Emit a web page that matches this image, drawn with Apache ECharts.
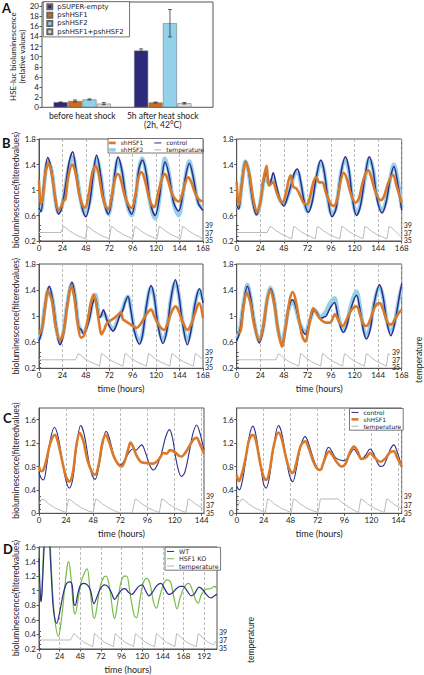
<!DOCTYPE html>
<html><head><meta charset="utf-8">
<script src="https://cdn.jsdelivr.net/npm/echarts@6/dist/echarts.min.js"></script>
<style>html,body{margin:0;padding:0;background:#fff;}#c{width:424px;height:675px;}</style>
</head><body><div id="c"></div>
<script>
// ---------------- Panel A data ----------------
const A_categories = ['before heat shock', '5h after heat shock\n(2h, 42°C)'];
const A_names = ['pSUPER-empty', 'pshHSF1', 'pshHSF2', 'pshHSF1+pshHSF2'];
const A_pSUPER = [1.0, 11.2];
const A_pshHSF1 = [1.25, 0.95];
const A_pshHSF2 = [1.55, 16.6];
const A_pshBoth = [0.72, 0.8];
const A_err_pSUPER = [0.05, 0.33];
const A_err_pshHSF1 = [0.2, 0.08];
const A_err_pshHSF2 = [0.1, 2.7];
const A_err_pshBoth = [0.2, 0.15];
const A_yTicks = [0, 20, 2];

// ---------------- Panel B data (hours, filtered bioluminescence) ----------------
const B1_control = [[0,0.72],[2,0.66],[5,1.1],[9,1.51],[13,1.3],[17,0.8],[20,0.62],[23,0.7],[27,1.05],[31,1.45],[34.5,1.6],[38,1.3],[43,0.8],[48,0.58],[52,0.8],[56,1.3],[59,1.55],[63,1.25],[67,0.8],[71,0.62],[75,0.9],[78,1.3],[81,1.52],[85,1.3],[90,0.8],[95,0.62],[99,0.9],[102,1.3],[106,1.47],[110,1.25],[114,0.8],[119,0.6],[123,0.85],[126,1.2],[129,1.44],[133,1.25],[138,0.8],[143,0.67],[147,0.9],[150,1.2],[154,1.42],[158,1.2],[163,0.8],[168,0.68]];
const B1_shHSF1 = [[0,1.15],[2,0.78],[4,0.9],[7,1.3],[10,1.42],[13,1.25],[17,0.85],[20,0.68],[23,0.75],[25,0.83],[27,0.85],[30,1.2],[34,1.4],[37,1.3],[41,0.95],[44,0.78],[47,0.72],[51,0.95],[55,1.3],[58,1.37],[61,1.25],[65,0.9],[68,0.75],[71,0.7],[75,0.95],[78,1.18],[81,1.25],[84,1.15],[88,0.9],[92,0.76],[95,0.72],[99,0.95],[102,1.2],[105,1.28],[108,1.18],[112,0.92],[115,0.78],[118,0.73],[122,0.95],[126,1.18],[129,1.25],[132,1.15],[136,0.95],[140,0.85],[143,0.82],[147,0.95],[150,1.12],[153,1.2],[156,1.12],[160,0.95],[164,0.85],[168,0.82]];
const B1_shHSF2 = [[0,0.7],[2,0.68],[5,1.05],[9,1.45],[13,1.3],[17,0.82],[20,0.65],[23,0.72],[27,1.05],[31,1.4],[34.5,1.52],[38,1.3],[43,0.82],[47,0.62],[52,0.82],[56,1.28],[59,1.5],[63,1.25],[67,0.82],[71,0.62],[75,0.9],[78,1.28],[81,1.48],[85,1.3],[90,0.8],[95,0.6],[99,0.88],[102,1.3],[105.5,1.5],[110,1.25],[114,0.78],[119,0.55],[123,0.82],[126,1.22],[129,1.5],[133,1.28],[138,0.78],[143,0.6],[147,0.88],[150,1.2],[154,1.45],[158,1.22],[163,0.8],[168,0.7]];
const B1_temp = [[0,37],[22.5,37],[25,38.6],[27,38.4],[31,37.5],[37,36.5],[43,35.8],[47.5,35.3],[49.5,38.6],[51.5,38.4],[55.5,37.5],[61.5,36.5],[67.5,35.8],[72,35.3],[74,38.6],[76,38.4],[80,37.5],[86,36.5],[92,35.8],[96,35.3],[98,38.6],[100,38.4],[104,37.5],[110,36.5],[116,35.8],[121,35.3],[123,38.6],[125,38.4],[129,37.5],[135,36.5],[141,35.8],[145,35.3],[147,38.6],[149,38.4],[153,37.5],[159,36.5],[165,35.8],[167,35.4],[168,36.5]];

const B2_control = [[0,0.76],[2,0.7],[5,1.1],[9,1.45],[12,1.3],[16,0.85],[20,0.61],[24,0.8],[27,1.1],[30.4,1.29],[33,1.07],[35,1.15],[37.2,1.27],[40,1.1],[42,0.97],[45,0.82],[48,0.75],[52,0.9],[56,1.12],[59,1.28],[61.8,1.33],[65,1.15],[69,0.8],[73,0.65],[77,0.82],[81,1.2],[85.7,1.47],[89,1.3],[93,0.85],[97,0.58],[101,0.7],[106,1.25],[110.6,1.52],[114,1.35],[118,0.85],[122,0.6],[126,0.75],[131,1.25],[135,1.52],[139,1.3],[143,0.85],[148,0.64],[152,0.8],[156,1.15],[160,1.37],[164,1.1],[168,0.68]];
const B2_shHSF1 = [[0,1.13],[2,0.76],[5,1.05],[9.2,1.43],[13,1.25],[17,0.85],[20.6,0.66],[24,0.8],[27,1.15],[30.4,1.38],[33,1.07],[37,1.12],[40.5,0.97],[44,0.84],[46.6,0.8],[50,0.95],[54.8,1.23],[57.6,1.05],[61,1.02],[65,0.9],[68,0.8],[71.4,0.77],[75,0.92],[78,1.12],[81,1.2],[84,1.12],[87,1.12],[91,0.95],[95,0.8],[99,0.75],[103,0.9],[106,1.15],[109,1.27],[112,1.18],[116,0.95],[121,0.8],[124,0.85],[128,1.1],[131,1.25],[134,1.31],[137,1.2],[141,0.98],[146.6,0.84],[150,0.9],[154,1.1],[159,1.24],[163,1.05],[168,0.8]];
const B2_shHSF2 = [[0,0.75],[2,0.72],[5,1.1],[9,1.45],[12,1.3],[16,0.85],[20.5,0.62],[24,0.8],[27,1.1],[30,1.25],[32,1.12],[35,1.15],[37,1.18],[40,1.05],[44,0.85],[48,0.78],[52,0.9],[56,1.1],[59,1.25],[62,1.28],[65,1.12],[69,0.8],[72,0.66],[76,0.8],[81,1.18],[85.7,1.44],[89,1.3],[93,0.85],[97,0.62],[101,0.72],[106,1.25],[110.6,1.48],[114,1.32],[118,0.85],[122,0.63],[126,0.78],[131,1.22],[135,1.5],[139,1.32],[143,0.88],[148,0.67],[152,0.82],[156,1.15],[160,1.4],[164,1.15],[168,0.72]];
const B2_temp = [[0,37],[31,37],[34,38.6],[36,38.4],[40,37.5],[46,36.5],[52,35.8],[56,35.3],[58,38.6],[60,38.4],[64,37.5],[70,36.5],[76,35.8],[80,35.3],[82,38.6],[84,38.4],[88,37.5],[94,36.5],[100,35.8],[105,35.3],[107,38.6],[109,38.4],[113,37.5],[119,36.5],[125,35.8],[128.5,35.3],[130.5,38.6],[132.5,38.4],[136.5,37.5],[142.5,36.5],[148.5,35.8],[153,35.3],[155,38.6],[157,38.4],[161,37.5],[166,36.2],[168,35.9]];

const B3_control = [[0,0.62],[3,0.78],[6,1.15],[10.6,1.46],[14,1.25],[18,0.8],[21.5,0.56],[25,0.72],[29,1.2],[33.8,1.52],[37,1.3],[39.5,0.95],[41,0.82],[43,0.8],[46,0.72],[49,0.82],[52,0.98],[55,1.2],[57.7,1.28],[60,1.1],[62,0.98],[64,1.02],[66,1.1],[68,1.02],[70,0.92],[73,0.82],[76,0.77],[79,0.85],[82,0.98],[86,1.1],[88,1.2],[91,1.3],[94,1.1],[98,0.75],[103,0.57],[106,0.7],[110,1.15],[114.8,1.47],[118,1.3],[122,0.85],[127,0.58],[131,0.78],[135,1.25],[139.7,1.56],[143,1.35],[147,0.9],[152,0.56],[156,0.8],[160,1.2],[164.3,1.42],[168,1.2]];
const B3_shHSF1 = [[0,0.72],[3,0.8],[6,1.1],[9,1.38],[13,1.25],[17,0.85],[21.5,0.63],[25,0.75],[29,1.15],[33,1.46],[36,1.3],[40,0.85],[43,0.67],[46,0.7],[50,0.95],[53,1.2],[56,1.33],[59,1.15],[62,0.85],[64,0.72],[67,0.8],[69,0.88],[73,0.93],[77,0.97],[81,1.02],[84,1.06],[86,0.95],[89,0.92],[93,0.88],[97,0.84],[100,0.82],[104,0.88],[108,0.98],[112,1.07],[115,1.1],[118,1.0],[122,0.88],[128,0.79],[132,0.9],[136,1.07],[140,1.15],[143,1.08],[147,0.92],[152,0.79],[156,0.88],[160,1.05],[164,1.2],[168,0.97]];
const B3_shHSF2 = [[0,0.64],[3,0.8],[6,1.15],[10.6,1.44],[14,1.25],[18,0.8],[21.5,0.6],[25,0.75],[29,1.2],[33.8,1.5],[37,1.3],[40,0.9],[43,0.78],[46,0.75],[49,0.85],[52,1.0],[55,1.25],[57.7,1.33],[60,1.15],[62,1.0],[64,1.0],[66,1.05],[70,0.95],[73,0.85],[76,0.8],[79,0.88],[82,1.0],[86,1.12],[88,1.22],[91,1.3],[94,1.12],[98,0.78],[103,0.62],[106,0.72],[110,1.15],[114.8,1.44],[118,1.3],[122,0.88],[127,0.63],[131,0.8],[135,1.25],[139.7,1.52],[143,1.35],[147,0.92],[152,0.62],[156,0.82],[160,1.2],[164.3,1.4],[168,1.25]];
const B3_temp = [[0,37],[37.5,37],[40,38.6],[42,38.4],[46,37.5],[52,36.5],[58,35.8],[62,35.3],[64,38.6],[66,38.4],[70,37.5],[76,36.5],[82,35.8],[86,35.3],[88,38.6],[90,38.4],[94,37.5],[100,36.5],[106,35.8],[110,35.3],[112,38.6],[114,38.4],[118,37.5],[124,36.5],[130,35.8],[134,35.3],[136,38.6],[138,38.4],[142,37.5],[148,36.5],[154,35.8],[158,35.3],[160,38.6],[162,38.4],[166,37.5],[168,37]];

const B4_control = [[0,0.62],[3,0.75],[7,1.2],[10.9,1.46],[14,1.3],[18,0.9],[23,0.59],[27,0.8],[31,1.25],[34.5,1.42],[38,1.25],[42,0.8],[46,0.57],[49,0.75],[52,1.05],[55,1.22],[57,1.25],[60,1.15],[64,0.9],[67,0.78],[70,0.72],[73,0.85],[76,1.0],[79,1.1],[82,1.05],[85,0.96],[88,0.98],[91,1.0],[95,1.12],[99.5,1.21],[103,1.0],[106,0.82],[108.5,0.75],[112,0.85],[116,1.1],[122,1.32],[125,1.15],[129,0.78],[132,0.65],[136,0.8],[140,1.2],[145.5,1.48],[149,1.3],[153,0.9],[157,0.7],[161,0.9],[165,1.25],[168,1.5]];
const B4_shHSF1 = [[0,0.75],[3,0.75],[7,1.15],[10,1.36],[14,1.2],[18,0.85],[23,0.63],[27,0.85],[31,1.25],[34,1.4],[38,1.2],[42,0.8],[46,0.53],[50,0.85],[54,1.25],[57,1.37],[60,1.25],[64,0.9],[67,0.68],[70,0.61],[73,0.8],[76,1.05],[78,1.12],[81,1.05],[84,0.98],[87,0.93],[91,0.9],[95,0.9],[100,1.03],[104,0.92],[108,0.85],[112,0.95],[117,1.1],[122,1.15],[126,1.0],[129,0.88],[132,0.85],[136,0.95],[141,1.15],[145.5,1.2],[149,1.1],[153,0.92],[157,0.87],[161,0.95],[165,1.05],[168,1.1]];
const B4_shHSF2 = [[0,0.66],[3,0.78],[7,1.2],[10.9,1.48],[14,1.3],[18,0.9],[23,0.62],[27,0.82],[31,1.25],[34.5,1.44],[38,1.25],[42,0.8],[46,0.6],[49,0.78],[52,1.05],[55,1.2],[57,1.22],[60,1.12],[64,0.9],[67,0.8],[70,0.75],[73,0.86],[76,1.0],[79,1.1],[82,1.05],[85,0.98],[88,1.02],[91,1.08],[95,1.2],[99.5,1.28],[103,1.05],[106,0.85],[108.5,0.78],[112,0.88],[116,1.15],[122,1.38],[125,1.2],[129,0.82],[132,0.7],[136,0.85],[140,1.2],[145.5,1.45],[149,1.3],[153,0.92],[157,0.75],[161,0.92],[165,1.25],[168,1.45]];
const B4_temp = [[0,37],[43,37],[45.5,38.6],[47.5,38.4],[51.5,37.5],[57.5,36.5],[63.5,35.8],[68,35.3],[70,38.6],[72,38.4],[76,37.5],[82,36.5],[88,35.8],[92,35.3],[94,38.6],[96,38.4],[100,37.5],[106,36.5],[112,35.8],[116,35.3],[118,38.6],[120,38.4],[124,37.5],[130,36.5],[136,35.8],[140,35.3],[142,38.6],[144,38.4],[148,37.5],[154,36.5],[160,35.8],[164,35.3],[166,38.6],[168,38.4]];

// ---------------- Panel C data ----------------
const C1_control = [[0,0.7],[2,0.6],[4,0.57],[7,0.85],[10,1.25],[13.6,1.47],[17,1.3],[21,0.85],[24,0.55],[26.8,0.43],[30,0.6],[33,1.1],[36.9,1.5],[40,1.35],[44,0.9],[47,0.65],[49.6,0.58],[53,0.8],[56,1.15],[59.3,1.4],[62,1.3],[66,1.0],[69,0.87],[72.3,0.83],[76,0.92],[80,1.05],[83,1.1],[86,1.08],[88,1.12],[90.8,1.17],[94,1.05],[98,0.82],[101.2,0.74],[104,0.8],[108,1.0],[112,1.3],[115.4,1.43],[118,1.3],[122,0.85],[126,0.63],[129,0.7],[133,1.05],[136,1.35],[139.5,1.51],[142,1.4],[146,1.08]];
const C1_shHSF1 = [[0,0.8],[2,0.72],[4,0.75],[7,0.95],[10,1.2],[14,1.34],[17,1.2],[21,0.85],[24,0.62],[27,0.54],[30,0.7],[33,1.15],[36,1.37],[39,1.25],[43,0.9],[47,0.7],[49.6,0.66],[53,0.85],[56,1.2],[59,1.34],[62,1.22],[66,0.98],[70,0.84],[73,0.8],[76,0.9],[79,1.1],[81,1.21],[83,1.15],[86,1.0],[90,0.88],[95,0.86],[101,0.85],[105,0.9],[108,0.98],[110,1.03],[113,1.02],[116,1.08],[120,1.05],[124,0.98],[126,0.97],[130,1.05],[134,1.18],[137,1.27],[139.5,1.29],[142,1.2],[146,1.02]];
const C1_temp = [[0,37.2],[2.5,38.3],[4.5,38.1],[8.5,37.2],[14.5,36.2],[20.5,35.5],[24,35.2],[26,38.3],[28,38.1],[32,37.2],[38,36.2],[44,35.5],[48,35.2],[50,38.3],[52,38.1],[56,37.2],[62,36.2],[68,35.4],[72,35.1],[82.5,35.1],[85,38.3],[87,38.1],[91,37.2],[97,36.2],[103,35.5],[106.5,35.2],[108.5,38.3],[110.5,38.1],[114.5,37.2],[120.5,36.2],[126.5,35.5],[130,35.2],[132,38.3],[134,38.1],[138,37.2],[144,36.3],[146,36]];
const C2_control = [[0,0.46],[2.4,0.4],[5,0.55],[8,0.9],[11,1.3],[14.3,1.49],[17,1.35],[21,0.85],[24,0.5],[26.2,0.43],[29,0.6],[33,1.15],[37.2,1.5],[40,1.38],[44,0.95],[47,0.65],[50,0.54],[53,0.75],[57,1.15],[61,1.31],[64,1.2],[68,0.95],[71,0.8],[74.3,0.74],[77,0.85],[80,1.08],[82,1.13],[85,1.05],[88,0.95],[92,0.91],[96,0.9],[100,0.98],[104.5,1.1],[108,1.0],[111.3,0.93],[115,1.0],[118.8,1.1],[122,1.02],[125,0.88],[128,0.8],[131,0.82],[134,0.95],[137,1.1],[140,1.17],[143,1.05],[147,0.8]];
const C2_shHSF1 = [[0,0.66],[2,0.55],[5,0.7],[8,0.95],[11,1.25],[14.3,1.34],[17,1.25],[21,0.85],[24,0.62],[26.2,0.57],[29,0.7],[33,1.15],[37.2,1.38],[40,1.28],[44,0.95],[47,0.75],[50,0.69],[53,0.85],[57,1.15],[61,1.23],[64,1.12],[68,0.9],[71,0.78],[74.3,0.74],[77,0.85],[80,1.0],[82,1.06],[85,1.0],[89,0.88],[93.5,0.8],[97,0.85],[101,1.05],[104.5,1.14],[108,1.05],[111,0.93],[115,0.95],[119,1.03],[123,0.95],[128,0.88],[132,0.93],[137,1.05],[140,1.06],[143,0.95],[147,0.8]];
const C2_temp = [[0,36.3],[2.5,37.5],[4.5,38.3],[6.5,38.1],[10.5,37.2],[16.5,36.2],[22.5,35.5],[25.5,35.2],[27.5,38.3],[29.5,38.1],[33.5,37.2],[39.5,36.2],[45.5,35.5],[48.5,35.2],[50.5,38.3],[52.5,38.1],[56.5,37.2],[62.5,36.2],[68.5,35.5],[72.5,35.2],[74.5,38.3],[90.5,38.3],[92.5,37.8],[96.5,37],[102.5,36],[106.5,35.4],[108.5,35.2],[110.5,38.3],[112.5,38.1],[116.5,37.2],[122.5,36.2],[128.5,35.5],[131.5,35.2],[133.5,38.3],[135.5,38.1],[139.5,37.2],[145.5,36.2],[147,36]];

// ---------------- Panel D data ----------------
const D_WT = [[0,1.45],[1.5,0.95],[2.5,0.85],[4,1.1],[6,1.6],[8,1.9],[11,1.9],[13,1.5],[15,1.05],[17,0.72],[20.5,0.55],[24,0.7],[28,0.95],[32,1.1],[36,1.12],[38.5,1.08],[40.5,0.82],[42,0.8],[45,0.95],[48,1.07],[52,1.1],[57,1.07],[60,1.0],[64,0.82],[67,0.9],[71,1.02],[76,1.08],[80,1.06],[84,0.98],[88,0.88],[92,0.95],[97,1.02],[100,1.03],[104,0.98],[108,0.95],[112,1.0],[116,1.06],[120,1.08],[124,1.0],[128,0.93],[132,0.98],[137,1.07],[142,1.1],[146,1.03],[151,0.95],[155,0.97],[160,1.03],[164,1.06],[168,1.06],[172,1.0],[177,0.93],[181,0.96],[186,1.05],[190,1.02],[196,0.93],[200,0.9],[204,0.93],[207,0.95]];
const D_HSF1KO = [[0,1.2],[1.5,0.9],[2.5,0.85],[4,1.2],[6,1.7],[9,1.9],[12,1.8],[14,1.4],[16,0.95],[19,0.55],[22.5,0.37],[26,0.6],[30,1.05],[33,1.35],[34.5,1.4],[37,1.2],[40.5,0.72],[42,0.68],[45,0.85],[49,1.12],[53,1.25],[56,1.3],[59,1.05],[63,0.65],[64.5,0.62],[67,0.75],[71,1.05],[75,1.18],[78,1.2],[82,1.05],[86,0.7],[88,0.62],[91,0.8],[95,1.1],[99,1.2],[102,1.2],[106,0.95],[111,0.65],[113.5,0.63],[117,0.85],[121,1.1],[125,1.17],[129,1.1],[133,0.85],[136.5,0.76],[140,0.9],[145,1.1],[149,1.15],[153,1.12],[157,0.9],[160.5,0.75],[164,0.9],[169,1.05],[174,1.1],[178,1.02],[182,0.88],[185,0.83],[189,0.95],[194,1.02],[200,1.03],[204,1.06],[207,1.03]];
const D_temp = [[0,37],[36.5,37],[40.5,38.5],[42.5,38.3],[46.5,37.4],[52.5,36.4],[58.5,35.8],[62.5,35.4],[64.5,38.5],[66.5,38.3],[70.5,37.4],[76.5,36.4],[82.5,35.8],[86.5,35.4],[88.5,38.5],[90.5,38.3],[94.5,37.4],[100.5,36.4],[106.5,35.8],[110,35.4],[112,38.5],[114,38.3],[118,37.4],[124,36.4],[130,35.8],[134.5,35.4],[136.5,38.5],[138.5,38.3],[142.5,37.4],[148.5,36.4],[154.5,35.8],[158,35.4],[160,38.5],[162,38.3],[166,37.4],[172,36.4],[178,35.8],[183,35.4],[185,38.5],[187,38.3],[191,37.4],[197,36.4],[203,35.8],[205,36.5],[207,37]];

const tempTicks = [35, 39, 1];
const yName = 'bioluminescence(filteredvalues)';
const xName = 'time (hours)';

// ---------------- build ----------------
const FONT = 'Lato, "DejaVu Sans", sans-serif';
const LFONT = '"DejaVu Sans", sans-serif';
const TXT = '#222';
const AX = '#555';
const option = {animation:false, textStyle:{fontFamily:FONT}, grid:[], xAxis:[], yAxis:[], series:[], legend:[], graphic:[]};
function addGrid(g, x, y){
  option.grid.push(g);
  const i = option.grid.length - 1;
  option.xAxis.push(Object.assign({gridIndex:i}, x));
  option.yAxis.push(Object.assign({gridIndex:i}, y));
  return i;
}

// Panel A
addGrid({left:42, top:2, width:171, height:105.3, show:true, borderColor:AX, borderWidth:1},
  {type:'value', show:false, min:0, max:1}, {type:'value', show:false, min:0, max:1});
const gA = addGrid({left:42, top:6, width:161, height:101.3},
  {type:'category', data:A_categories, axisLine:{show:false}, axisTick:{show:false},
   axisLabel:{fontSize:8.5, color:TXT, margin:4, lineHeight:9, interval:0}},
  {type:'value', min:A_yTicks[0], max:A_yTicks[1], interval:A_yTicks[2], axisLine:{show:false},
   axisTick:{show:true, length:2.5, lineStyle:{color:AX}}, axisLabel:{fontSize:8, color:TXT, margin:3},
   splitLine:{show:false}, name:'HSE-luc bioluminescence\n(relative values)', nameLocation:'middle', nameGap:6,
   nameTextStyle:{fontSize:8, color:TXT, lineHeight:8.5}});
const A_vals = [A_pSUPER, A_pshHSF1, A_pshHSF2, A_pshBoth];
const A_errs = [A_err_pSUPER, A_err_pshHSF1, A_err_pshHSF2, A_err_pshBoth];
const A_colors = ['#2d2a7e', '#cf6c1d', '#93d1ea', '#d9d9d9'];
A_names.forEach((n, k) => {
  option.series.push({type:'bar', name:n, xAxisIndex:gA, yAxisIndex:gA, data:A_vals[k], barWidth:14, barGap:'3%',
    itemStyle:{color:A_colors[k], borderColor:'#666', borderWidth:0.5}});
});
A_names.forEach((n, k) => {
  const off = (k - 1.5) * 14.42;
  option.series.push({type:'custom', name:n + ' err', xAxisIndex:gA, yAxisIndex:gA, z:5,
    data:A_categories.map((c, i) => [i, A_vals[k][i], A_errs[k][i]]),
    renderItem:(params, api) => {
      const c = api.value(0), v = api.value(1), e = api.value(2);
      const hi = api.coord([c, v + e]), lo = api.coord([c, v - e]);
      const x = hi[0] + off, s = {stroke:'#333', lineWidth:0.8};
      return {type:'group', children:[
        {type:'line', shape:{x1:x, y1:hi[1], x2:x, y2:lo[1]}, style:s},
        {type:'line', shape:{x1:x-2, y1:hi[1], x2:x+2, y2:hi[1]}, style:s},
        {type:'line', shape:{x1:x-2, y1:lo[1], x2:x+2, y2:lo[1]}, style:s}]};
    }});
});
option.legend.push({left:43.3, top:1.7, orient:'vertical', itemGap:0, itemWidth:5, itemHeight:5, padding:[1,6,1,3],
  borderColor:AX, borderWidth:0.8, backgroundColor:'#fff', data:A_names, icon:'rect',
  textStyle:{fontFamily:LFONT, fontSize:6.9, color:TXT, lineHeight:8.3}});

// line panels
const STY = {
  shHSF2:{color:'#96cfea', width:4},
  control:{color:'#2e2d86', width:1.5},
  shHSF1:{color:'#d97a2b', width:2.6},
  temperature:{color:'#b3b3b3', width:0.9},
  WT:{color:'#2e2d86', width:1.2},
  'HSF1 KO':{color:'#78bb4a', width:1.2}
};
function linePanel(p){
  const bottom = p.top + p.height;
  const g = addGrid({left:p.left, top:p.top, width:p.width, height:p.height, show:true, borderColor:AX, borderWidth:1},
    {type:'value', min:0, max:p.xmax, interval:24, axisLine:{lineStyle:{color:AX}},
     axisTick:{length:2.5, lineStyle:{color:AX}}, axisLabel:{fontSize:8, color:TXT, margin:3, showMaxLabel:p.xmax % 24 === 0},
     splitLine:{show:true, lineStyle:{type:[3,2], color:'#aaa', width:0.8}},
     name:p.xName ? xName : '', nameLocation:'middle', nameGap:16, nameTextStyle:{fontSize:9, color:TXT}},
    {type:'value', min:p.ymin, max:p.ymax, interval:p.yint, axisLine:{lineStyle:{color:AX}},
     axisTick:{length:2.5, lineStyle:{color:AX}}, axisLabel:{fontSize:8, color:TXT, margin:3, showMaxLabel:p.showMax !== false},
     splitLine:{show:false},
     name:p.yName ? yName : '', nameLocation:'middle', nameGap:p.yGap || 13, nameTextStyle:{fontSize:8.5, color:TXT}});
  const t = addGrid({left:p.left, top:bottom - p.tOff - p.tH, width:p.width, height:p.tH},
    {type:'value', show:false, min:0, max:p.xmax},
    {type:'value', position:'right', min:tempTicks[0], max:tempTicks[1], interval:tempTicks[2],
     axisLine:{show:false}, axisTick:{show:true, length:2, lineStyle:{color:AX}},
     axisLabel:{fontSize:7, color:TXT, margin:2, formatter:v => (v % 2 ? String(v) : '')}, splitLine:{show:false},
     name:p.tName ? 'temperature' : '', nameLocation:'middle', nameGap:p.tGap || 15, nameTextStyle:{fontSize:8.5, color:TXT}});
  p.series.forEach(([name, data, w]) => {
    const st = STY[name];
    const isT = name === 'temperature';
    option.series.push({type:'line', name, data, xAxisIndex:isT ? t : g, yAxisIndex:isT ? t : g,
      symbol:'none', showSymbol:false, smooth:isT ? false : 0.35, clip:true,
      lineStyle:{color:st.color, width:w || st.width}, itemStyle:{color:st.color}});
  });
}
const Bw1 = 164, Bw2 = 165;
linePanel({left:39, top:139, width:Bw1, height:102, xmax:168, ymin:0.2, ymax:1.8, yint:0.4, yName:true, tH:15, tOff:1,
  series:[['shHSF2',B1_shHSF2],['control',B1_control],['shHSF1',B1_shHSF1],['temperature',B1_temp]]});
linePanel({left:236.7, top:139, width:Bw2, height:102, xmax:168, ymin:0.2, ymax:1.8, yint:0.4, tH:15, tOff:1,
  series:[['shHSF2',B2_shHSF2],['control',B2_control],['shHSF1',B2_shHSF1],['temperature',B2_temp]]});
linePanel({left:39, top:264, width:Bw1, height:104.3, xmax:168, ymin:0.2, ymax:1.8, yint:0.4, yName:true, xName:true, tH:15, tOff:1,
  series:[['shHSF2',B3_shHSF2],['control',B3_control],['shHSF1',B3_shHSF1],['temperature',B3_temp]]});
linePanel({left:236.7, top:264, width:Bw2, height:104.3, xmax:168, ymin:0.2, ymax:1.8, yint:0.4, xName:true, tName:true, tGap:24, tH:15, tOff:1,
  series:[['shHSF2',B4_shHSF2],['control',B4_control],['shHSF1',B4_shHSF1],['temperature',B4_temp]]});
linePanel({left:39, top:408, width:165, height:105.3, xmax:146, ymin:0, ymax:1.8, yint:0.4, showMax:false, yName:true, xName:true, tH:17.3, tOff:0,
  series:[['control',C1_control,1.1],['shHSF1',C1_shHSF1],['temperature',C1_temp]]});
linePanel({left:236.7, top:408, width:165, height:105.3, xmax:147, ymin:0, ymax:1.8, yint:0.4, showMax:false, xName:true, tH:17.3, tOff:0,
  series:[['control',C2_control,1.1],['shHSF1',C2_shHSF1],['temperature',C2_temp]]});
linePanel({left:39, top:547, width:178, height:102, xmax:207, ymin:0.2, ymax:1.6, yint:0.2, yName:true, xName:true, tName:true, tGap:29, tH:16.6, tOff:0.7,
  series:[['HSF1 KO',D_HSF1KO],['WT',D_WT],['temperature',D_temp]]});

// legends (line-shaped icons)
const ICON_THIN = 'path://M0,0h7v1h-7z';
const ICON_THICK = 'path://M0,0h7v2.6h-7z';
const ICON_BAND = 'path://M0,0h7v3.6h-7z';
const lgItem = {
  shHSF1:{name:'shHSF1', icon:ICON_THICK}, shHSF2:{name:'shHSF2', icon:ICON_BAND},
  control:{name:'control', icon:ICON_THIN}, temperature:{name:'temperature', icon:ICON_THIN},
  WT:{name:'WT', icon:ICON_THIN}, 'HSF1 KO':{name:'HSF1 KO', icon:ICON_THIN}
};
const lgBase = {orient:'vertical', itemGap:0, itemWidth:7, itemHeight:4, padding:0, symbolKeepAspect:true,
  textStyle:{fontFamily:LFONT, fontSize:6, color:TXT, lineHeight:6.9}};
option.legend.push(Object.assign({}, lgBase, {left:108.7, top:139.5, data:['shHSF1','shHSF2'].map(n => lgItem[n])}));
option.legend.push(Object.assign({}, lgBase, {left:154.3, top:139.5, data:['control','temperature'].map(n => lgItem[n])}));
option.graphic.push({type:'rect', z:3, shape:{x:108, y:138.5, width:95, height:14.5}, style:{fill:'#fff', stroke:AX, lineWidth:0.8}});
option.legend.push(Object.assign({}, lgBase, {left:349.5, top:408.5, padding:[0.5,2,0.5,2], borderColor:AX, borderWidth:0.8, backgroundColor:'#fff',
  data:['control','shHSF1','temperature'].map(n => lgItem[n])}));
option.legend.push(Object.assign({}, lgBase, {left:165, top:547.3, padding:[0.5,2,0.5,2], borderColor:AX, borderWidth:0.8, backgroundColor:'#fff',
  data:['WT','HSF1 KO','temperature'].map(n => lgItem[n]),
  textStyle:{fontFamily:LFONT, fontSize:6.3, color:TXT, lineHeight:7.3}}));

// panel letters
[['A',2,1],['B',2,136],['C',3,411],['D',3,542]].forEach(([s,x,y]) => {
  option.graphic.push({type:'text', x, y, style:{text:s, font:'bold 13px ' + FONT, fill:'#111'}});
});

const chart = echarts.init(document.getElementById('c'), null, {renderer:'svg'});
chart.setOption(option);
</script></body></html>
